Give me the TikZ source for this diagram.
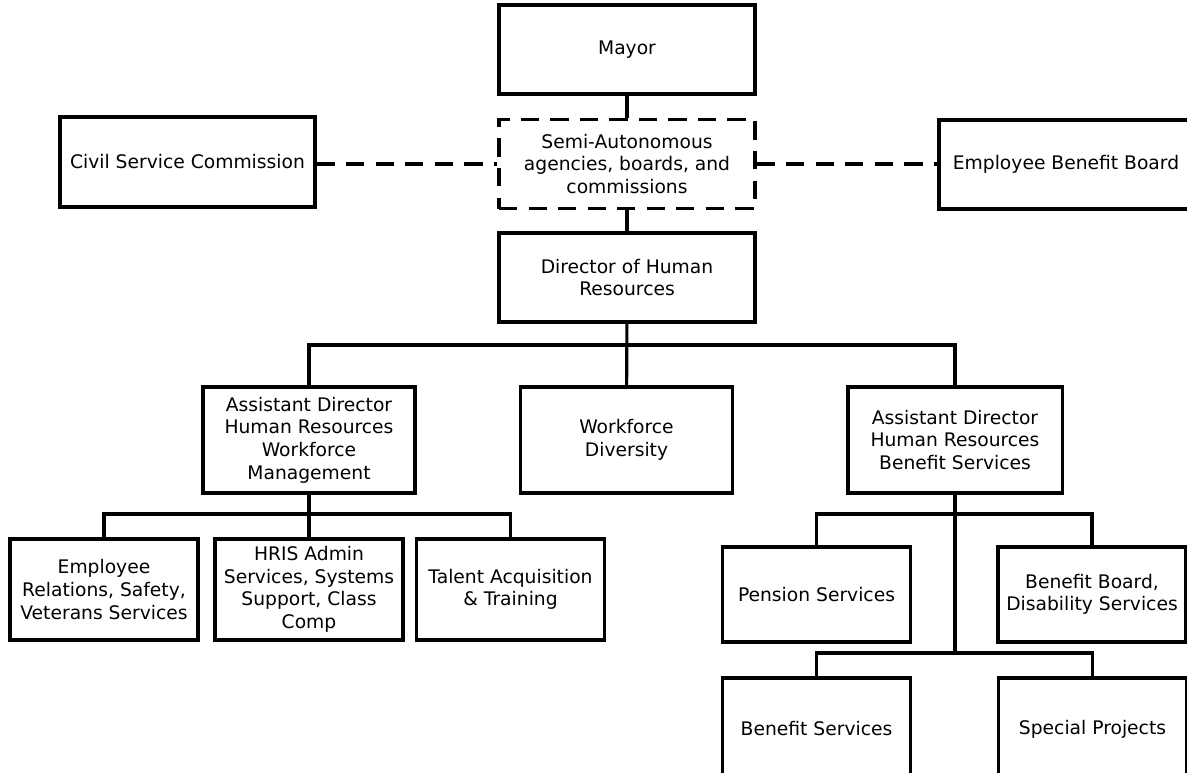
\documentclass[tikz,border=0pt]{standalone}
\usepackage{fontspec}
\setmainfont{DejaVu Sans}
\usetikzlibrary{positioning}

\tikzset{
  box/.style={draw, line width=2.2pt, align=center, inner sep=2pt,
    font=\fontsize{13.3}{16.1}\selectfont},
  topbox/.style={box, minimum width=6.4cm, minimum height=2.225cm},
  midbox/.style={box, minimum width=5.3cm, minimum height=2.65cm},
  leafbox/.style={box, minimum width=4.7cm, minimum height=2.525cm},
  link/.style={line width=2.2pt},
  dashlink/.style={line width=2.2pt, dash pattern=on 13pt off 8pt}
}

\begin{document}
\begin{tikzpicture}[x=0.025cm, y=-0.025cm]
  \clip (0,0) rectangle (1187,773);

  \node[topbox] (mayor) at (627,49.5) {Mayor};
  \node[topbox, dash pattern=on 13pt off 8pt] (semi) at (627,164) {Semi-Autonomous\\agencies, boards, and\\commissions};
  \node[topbox] (dir) at (627,277.5) {Director of Human\\Resources};
  \node[topbox, minimum width=6.375cm, minimum height=2.25cm] (civil) at (187.5,162) {Civil Service Commission};
  \node[topbox, minimum width=6.35cm] (ebb) at (1066,164.5) {Employee Benefit Board};

  \node[midbox] (adwm) at (309,440) {Assistant Director\\Human Resources\\Workforce\\Management};
  \node[midbox] (wd) at (626.5,440) {Workforce\\Diversity};
  \node[midbox, minimum width=5.35cm] (adbs) at (955,440) {Assistant Director\\Human Resources\\Benefit Services};

  \node[leafbox] (er) at (104,589.5) {Employee\\Relations, Safety,\\Veterans Services};
  \node[leafbox] (hris) at (309,589.5) {HRIS Admin\\Services, Systems\\Support, Class\\Comp};
  \node[leafbox] (talent) at (510.5,589.5) {Talent Acquisition\\\& Training};

  \node[leafbox, minimum height=2.375cm] (pension) at (816.5,594.5) {Pension Services};
  \node[leafbox, minimum height=2.375cm] (bbds) at (1092,594.5) {Benefit Board,\\Disability Services};
  \node[leafbox, minimum height=2.55cm] (bensvc) at (816.5,729) {Benefit Services};
  \node[leafbox, minimum height=2.55cm] (special) at (1092.5,729) {Special Projects};

  \coordinate (topbar) at (0,345);
  \coordinate (leftbar) at (0,514);
  \coordinate (lowbar) at (0,653);

  % chain of command
  \draw[link] (mayor) -- (semi);
  \draw[link] (semi) -- (dir);
  \draw[dashlink] (civil.east |- semi) -- (semi.west);
  \draw[dashlink] (semi.east) -- (semi.east -| ebb.west);

  % assistant directors
  \draw[link] (dir) -- (wd);
  \draw[link] (adwm.north) |- (dir.south |- topbar) -| (adbs.north);

  % workforce management
  \draw[link] (adwm) -- (hris);
  \draw[link] (er.north) |- (adwm.south |- leftbar) -| (talent.north);

  % benefit services
  \draw[link] (adbs.south) -- (adbs.south |- lowbar);
  \draw[link] (pension.north) |- (adbs.south |- leftbar) -| (bbds.north);
  \draw[link] (bensvc.north) |- (adbs.south |- lowbar) -| (special.north);
\end{tikzpicture}
\end{document}
